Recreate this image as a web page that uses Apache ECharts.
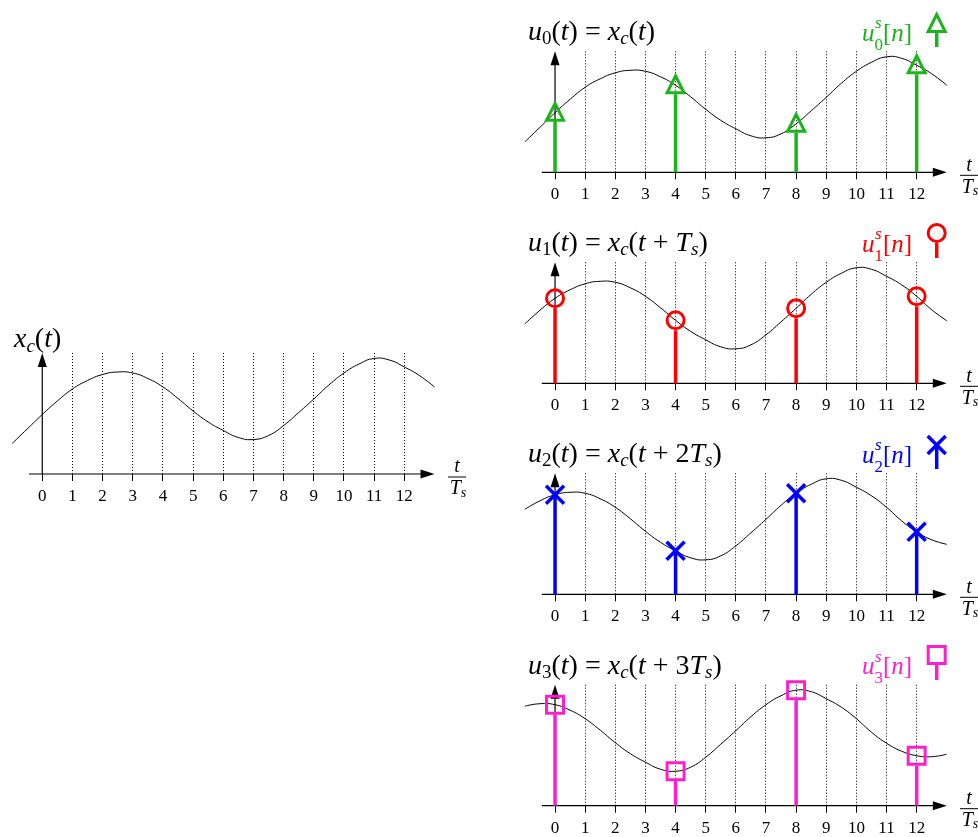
<!DOCTYPE html>
<html>
<head>
<meta charset="utf-8">
<script src="https://cdn.jsdelivr.net/npm/echarts@6/dist/echarts.min.js"></script>
<style>
  html, body { margin: 0; padding: 0; background: #fff; }
  #main { width: 978px; height: 837px; }
</style>
</head>
<body>
<div id="main"></div>
<script>
// x_c(t), every 0.5 from t = -1 to t = 16
var xcTimes = [-1, -0.5, 0, 0.5, 1, 1.5, 2, 2.5, 3, 3.5, 4, 4.5, 5, 5.5, 6, 6.5, 7, 7.5,
  8, 8.5, 9, 9.5, 10, 10.5, 11, 11.5, 12, 12.5, 13, 13.5, 14, 14.5, 15, 15.5, 16];
var xcValues = [30.5, 45, 59.5, 73, 85, 93.5, 99.5, 102, 101, 95.5, 87, 75.5, 63, 52, 43.5, 36.5, 34.5, 38.5,
  48.5, 61.5, 75, 89, 101, 110, 115.5, 114, 107, 98.5, 87, 73.5, 62.5, 54.5, 50, 49, 51.5];

var tickValues = [0, 1, 2, 3, 4, 5, 6, 7, 8, 9, 10, 11, 12];
var dottedTimes = [1, 2, 3, 4, 5, 6, 7, 8, 9, 10, 11, 12];
var sampleTimes = [0, 4, 8, 12];
var panelShifts = [0, 1, 2, 3];
var panelColors = ['#1cb41c', '#ff0000', '#0000ff', '#ff1ecb'];
var panelMarkers = ['triangle', 'circle', 'cross', 'square'];

var T_MIN = -1, T_MAX = 13, Y_MAX = 121;
var AXIS_START = -0.44;
var SERIF = 'Liberation Serif';

var chart = echarts.init(document.getElementById('main'));

// panel 0 = x_c(t) on the left, panels 1..4 = u_0..u_3 on the right
var grids = [{ left: 12.1, top: 353, width: 422.4, height: Y_MAX }];
var rightAxisY = [172.3, 383.3, 594.3, 805.7];
rightAxisY.forEach(function (y) {
  grids.push({ left: 524.9, top: y - Y_MAX, width: 421.9, height: Y_MAX });
});

function xcAt(t) {
  return xcValues[xcTimes.indexOf(t)];
}

function shiftedCurve(k) {
  var pts = [];
  xcTimes.forEach(function (t) {
    if (t <= T_MAX) pts.push([t, xcAt(t + k)]);
  });
  return pts;
}

function markerShapes(kind, cx, cy, color) {
  var st = { stroke: color, fill: 'none', lineWidth: 3 };
  if (kind === 'triangle') {
    return [{ type: 'polygon', shape: { points: [[cx, cy - 9.5], [cx - 8.5, cy + 7.5], [cx + 8.5, cy + 7.5]] }, style: st }];
  }
  if (kind === 'circle') {
    return [{ type: 'circle', shape: { cx: cx, cy: cy, r: 8.5 }, style: st }];
  }
  if (kind === 'square') {
    return [{ type: 'rect', shape: { x: cx - 8.5, y: cy - 8.5, width: 17, height: 17 }, style: st }];
  }
  var sx = { stroke: color, lineWidth: 3.5 };
  return [
    { type: 'line', shape: { x1: cx - 9, y1: cy - 9, x2: cx + 9, y2: cy + 9 }, style: sx },
    { type: 'line', shape: { x1: cx - 9, y1: cy + 9, x2: cx + 9, y2: cy - 9 }, style: sx }
  ];
}
var stemGap = { triangle: 9, circle: 10, cross: 0, square: 10 };

function snap(v) {
  return Math.round(v - 0.5) + 0.5;
}

function renderFrame(params, api) {
  var o = api.coord([0, 0]);
  var xs = api.coord([AXIS_START, 0]);
  var xe = api.coord([T_MAX, 0]);
  var top = api.coord([0, Y_MAX]);
  var children = [];
  dottedTimes.forEach(function (t) {
    var p0 = api.coord([t, 0]), p1 = api.coord([t, Y_MAX]);
    var x = snap(p0[0]);
    children.push({ type: 'line', shape: { x1: x, y1: p0[1], x2: x, y2: p1[1] },
      style: { stroke: '#000', lineWidth: 1, lineDash: [1, 2] } });
  });
  tickValues.forEach(function (t) {
    var p = api.coord([t, 0]);
    var x = snap(p[0]);
    children.push({ type: 'line', shape: { x1: x, y1: p[1], x2: x, y2: p[1] + 7 },
      style: { stroke: '#000', lineWidth: 1 } });
  });
  children.push({ type: 'line', shape: { x1: xs[0], y1: xs[1], x2: xe[0] - 10, y2: xe[1] },
    style: { stroke: '#000', lineWidth: 1.2 } });
  children.push({ type: 'polygon', shape: { points: [[xe[0], xe[1]], [xe[0] - 14, xe[1] - 4.5], [xe[0] - 14, xe[1] + 4.5]] },
    style: { fill: '#000' } });
  children.push({ type: 'line', shape: { x1: o[0], y1: o[1], x2: top[0], y2: top[1] + 10 },
    style: { stroke: '#000', lineWidth: 1.2 } });
  children.push({ type: 'polygon', shape: { points: [[top[0], top[1]], [top[0] - 4.5, top[1] + 14], [top[0] + 4.5, top[1] + 14]] },
    style: { fill: '#000' } });
  return { type: 'group', children: children };
}

// smooth curve through all the read points (no clamping at the peaks)
function makeCurveRender(pts) {
  return function (params, api) {
    if (params.dataIndex !== 0) return null;
    var coords = pts.map(function (p) { return api.coord(p); });
    return { type: 'polyline', shape: { points: coords, smooth: 0.5 },
      style: { stroke: '#000', lineWidth: 1, fill: null } };
  };
}

function makeStemRender(k) {
  return function (params, api) {
    var t = api.value(0), v = api.value(1);
    var base = api.coord([t, 0]);
    var p = api.coord([t, v]);
    var kind = panelMarkers[k], color = panelColors[k];
    var children = [{ type: 'line', shape: { x1: base[0], y1: base[1], x2: p[0], y2: p[1] + stemGap[kind] },
      style: { stroke: color, lineWidth: 3.5 } }];
    return { type: 'group', children: children.concat(markerShapes(kind, p[0], p[1], color)) };
  };
}

var xAxes = [], yAxes = [], series = [];
grids.forEach(function (g, i) {
  xAxes.push({
    gridIndex: i, type: 'value', min: T_MIN, max: T_MAX, interval: 1,
    axisLine: { show: false }, axisTick: { show: false }, splitLine: { show: false },
    axisLabel: {
      margin: 14, color: '#000', fontFamily: SERIF, fontSize: 17,
      formatter: function (v) { return (v >= 0 && v <= 12) ? String(v) : ''; }
    }
  });
  yAxes.push({ gridIndex: i, type: 'value', min: 0, max: Y_MAX, show: false });
  series.push({
    type: 'custom', xAxisIndex: i, yAxisIndex: i, z: 1, silent: true,
    renderItem: renderFrame, data: [[0, 0]]
  });
  var k = i === 0 ? 0 : panelShifts[i - 1];
  var curve = shiftedCurve(k);
  series.push({
    type: 'custom', xAxisIndex: i, yAxisIndex: i, z: 2, silent: true,
    renderItem: makeCurveRender(curve), data: curve
  });
  if (i > 0) {
    series.push({
      type: 'custom', xAxisIndex: i, yAxisIndex: i, z: 3, silent: true,
      renderItem: makeStemRender(i - 1),
      data: sampleTimes.map(function (n) { return [n, xcAt(n + k)]; })
    });
  }
});

// ---- texts and legend marks ----
var richMath = {
  i: { fontFamily: SERIF, fontStyle: 'italic', fontSize: 28, lineHeight: 32 },
  n: { fontFamily: SERIF, fontSize: 28, lineHeight: 32 },
  sb: { fontFamily: SERIF, fontSize: 19, lineHeight: 19, verticalAlign: 'bottom' },
  si: { fontFamily: SERIF, fontStyle: 'italic', fontSize: 19, lineHeight: 19, verticalAlign: 'bottom' }
};
function mathText(x, y, str, fill) {
  return { type: 'text', x: x, y: y, silent: true,
    style: { text: str, rich: richMath, fill: fill || '#000', align: 'left', verticalAlign: 'middle' } };
}

var titles = [
  '{i|u}{sb|0}{n|(}{i|t}{n|) = }{i|x}{si|c}{n|(}{i|t}{n|)}',
  '{i|u}{sb|1}{n|(}{i|t}{n|) = }{i|x}{si|c}{n|(}{i|t}{n| + }{i|T}{si|s}{n|)}',
  '{i|u}{sb|2}{n|(}{i|t}{n|) = }{i|x}{si|c}{n|(}{i|t}{n| + 2}{i|T}{si|s}{n|)}',
  '{i|u}{sb|3}{n|(}{i|t}{n|) = }{i|x}{si|c}{n|(}{i|t}{n| + 3}{i|T}{si|s}{n|)}'
];

var graphics = [];
graphics.push(mathText(14, 340, '{i|x}{si|c}{n|(}{i|t}{n|)}'));

function fraction(cx, axisY) {
  return [
    { type: 'text', x: cx, y: axisY - 7, silent: true,
      style: { text: 't', fontFamily: SERIF, fontStyle: 'italic', fontSize: 20, fill: '#000', align: 'center', verticalAlign: 'middle' } },
    { type: 'line', silent: true, shape: { x1: cx - 9, y1: axisY + 3, x2: cx + 9, y2: axisY + 3 }, style: { stroke: '#000', lineWidth: 1 } },
    { type: 'text', x: cx + 1, y: axisY + 15, silent: true,
      style: { text: '{a|T}{b|s}', align: 'center', verticalAlign: 'middle', fill: '#000',
        rich: { a: { fontFamily: SERIF, fontStyle: 'italic', fontSize: 20, lineHeight: 22 },
                b: { fontFamily: SERIF, fontStyle: 'italic', fontSize: 14, lineHeight: 14, verticalAlign: 'bottom' } } } }
  ];
}
graphics = graphics.concat(fraction(457, 474));

var legendIconY = [24, 233, 445, 655];
var legendStemEnd = [47, 258, 469, 680];
rightAxisY.forEach(function (ay, k) {
  var base = ay - 129.5;
  var color = panelColors[k];
  graphics.push(mathText(528, base - 10, titles[k]));
  graphics = graphics.concat(fraction(969, ay));
  // legend label u^s_k[n]
  graphics.push({ type: 'text', x: 862, y: base - 8.5, silent: true,
    style: { text: 'u', fontFamily: SERIF, fontStyle: 'italic', fontSize: 25, fill: color, align: 'left', verticalAlign: 'middle' } });
  graphics.push({ type: 'text', x: 875, y: base - 19, silent: true,
    style: { text: 's', fontFamily: SERIF, fontStyle: 'italic', fontSize: 17, fill: color, align: 'left', verticalAlign: 'middle' } });
  graphics.push({ type: 'text', x: 874.5, y: base - 4, silent: true,
    style: { text: '{d|' + k + '}{n|[}{i|n}{n|]}', fill: color, align: 'left', verticalAlign: 'middle',
      rich: { d: { fontFamily: SERIF, fontSize: 17, lineHeight: 30, verticalAlign: 'bottom' },
              n: { fontFamily: SERIF, fontSize: 25, lineHeight: 30, padding: [0, 0, 9, 0] },
              i: { fontFamily: SERIF, fontStyle: 'italic', fontSize: 25, lineHeight: 30, padding: [0, 0, 9, 0] } } } });
  // legend mark
  var kind = panelMarkers[k];
  var cy = legendIconY[k];
  graphics.push({ type: 'line', silent: true,
    shape: { x1: 936.7, y1: cy + stemGap[kind], x2: 936.7, y2: legendStemEnd[k] },
    style: { stroke: color, lineWidth: 3.5 } });
  markerShapes(kind, 936.7, cy, color).forEach(function (s) { s.silent = true; graphics.push(s); });
});

chart.setOption({
  animation: false,
  backgroundColor: '#fff',
  grid: grids,
  xAxis: xAxes,
  yAxis: yAxes,
  series: series,
  graphic: { elements: graphics }
});
</script>
</body>
</html>
